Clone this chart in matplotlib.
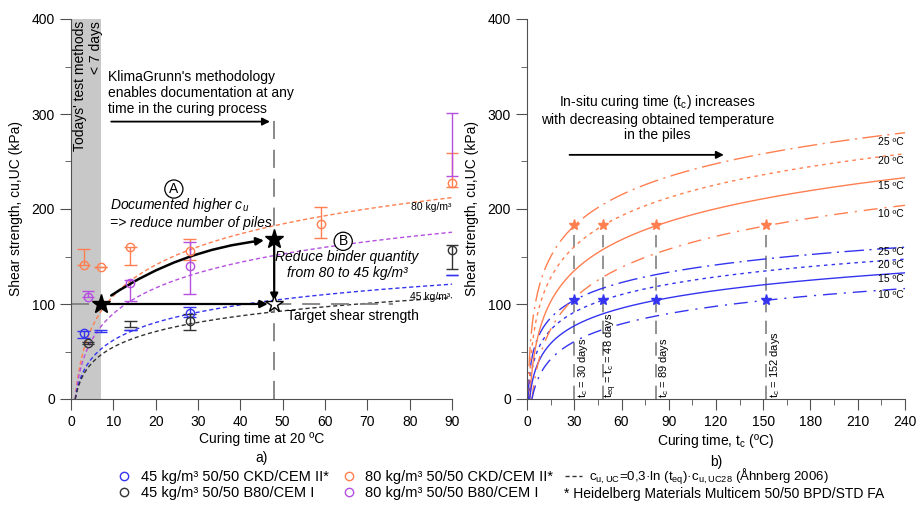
import numpy as np
import matplotlib.pyplot as plt
from matplotlib.lines import Line2D

plt.rcParams['font.family'] = ['Liberation Sans', 'DejaVu Sans']
plt.rcParams['mathtext.default'] = 'regular'
plt.rcParams['font.size'] = 10

# colours
c_or = '#FF7F50'
c_pu = '#B44FE0'
c_bl = '#3434F0'
c_bk = '#333333'
c_gr = '#808080'

# ---- data a) : measured shear strength (mean, low, high), nan = no marker drawn
t_or = [3, 7, 14, 28, 59, 90]
m_or = [141, 139, 160, 156, 184, 227]
lo_or = [141, 139, 141, 146, 169, 223]
hi_or = [158, 139, 160, 168, 202, 259]

t_pu = [4, 14, 28, 90]
m_pu = [107, 122, 140, np.nan]
lo_pu = [107, 103, 111, 235]
hi_pu = [114, 125, 165, 301]

t_bl = [3, 7, 14, 28, 90]
m_bl = [69, np.nan, np.nan, 91, np.nan]
lo_bl = [64, 70.5, 73, 86, 131]
hi_bl = [72, 73, 73, 97, 131]

t_bk = [4, 14, 28, 90]
m_bk = [59, np.nan, 82, 157]
lo_bk = [58, 76, 73, 137]
hi_bk = [60, 82.5, 90, 162]

# c_u,UC28 (kPa)
c28_or = 157
c28_pu = 130
c28_bl = 89.5
c28_bk = 79

# ---- data b) : in-situ curing times reaching the 20 degC / 48 day strength
temps = [25, 20, 15, 10]
t_star = [30, 48, 82, 152]
t_ref = 48
star_or = 183
star_bl = 104
day_labels = ['t$_c$ = 30 days', 't$_{eq}$ = t$_c$ = 48 days', 't$_c$ = 89 days', 't$_c$ = 152 days']
lab_y_or = [271, 250, 224, 195]
lab_y_bl = [155, 141, 126, 109]
styles = [(0, (14, 4, 1.5, 4)), (0, (2.5, 3)), '-', (0, (10, 5, 1.5, 5))]


def cu(t, c28):
    # c_u,UC = c_u,UC28 (1 + 0.3 ln(t_eq/28))  (Ahnberg 2006)
    return c28 * (1 + 0.3 * np.log(t / 28.0))


fig = plt.figure(figsize=(9.19, 5.08), dpi=100)
ax1 = fig.add_axes([71/919, 1-399/508, 381/919, 380/508])
ax2 = fig.add_axes([527/919, 1-399/508, 378/919, 380/508])

for ax in (ax1, ax2):
    for s in ('top', 'right'):
        ax.spines[s].set_visible(False)
    for s in ('left', 'bottom'):
        ax.spines[s].set_color('#505050')
    ax.tick_params(which='major', length=8, color='#505050')
    ax.tick_params(which='minor', length=4, color='#505050')
    ax.set_ylim(0, 400)
    ax.set_yticks([0, 100, 200, 300, 400])
    ax.set_yticks([50, 150, 250, 350], minor=True)
    ax.set_ylabel('Shear strength, cu,UC (kPa)', labelpad=6)

# ---------------- a)
ax1.set_xlim(0, 90)
ax1.set_xticks(range(0, 91, 10))
ax1.set_xlabel('Curing time at 20 ºC\na)', linespacing=1.5, labelpad=2)
ax1.axvspan(0, 7, color='#C8C8C8', zorder=0, lw=0)
ax1.text(4.1, 398, "Todays' test methods\n< 7 days", rotation=90, ha='center', va='top',
         multialignment='right', fontsize=10)

tt = np.linspace(1.0, 90, 300)
for c28, col in [(c28_or, c_or), (c28_pu, c_pu), (c28_bl, c_bl), (c28_bk, c_bk)]:
    ax1.plot(tt, cu(tt, c28), color=col, lw=1, ls=(0, (3, 2)), zorder=2)

ax1.plot([0, 76], [100, 100], color=c_gr, lw=1.3, ls=(0, (10, 6)), zorder=2)
ax1.plot([48, 48], [0, 300], color=c_gr, lw=1.3, ls=(0, (10, 6)), zorder=2)

cw = 1.5
for t, m, lo, hi, col in [(t_or, m_or, lo_or, hi_or, c_or), (t_pu, m_pu, lo_pu, hi_pu, c_pu),
                          (t_bl, m_bl, lo_bl, hi_bl, c_bl), (t_bk, m_bk, lo_bk, hi_bk, c_bk)]:
    t = np.array(t, float)
    ax1.vlines(t, lo, hi, color=col, lw=1, zorder=3, clip_on=False)
    ax1.hlines(lo, t - cw, t + cw, color=col, lw=1, zorder=3, clip_on=False)
    ax1.hlines(hi, t - cw, t + cw, color=col, lw=1, zorder=3, clip_on=False)
    ax1.plot(t, m, 'o', mfc='none', mec=col, ms=6, mew=1, ls='none', zorder=4, clip_on=False)

arr = dict(arrowstyle='-|>', color='k', lw=1.3, mutation_scale=11, shrinkA=0, shrinkB=0)
ax1.text(8.7, 322, "KlimaGrunn's methodology\nenables documentation at any\ntime in the curing process",
         ha='left', va='center', fontsize=10, linespacing=1.15)
ax1.annotate('', xy=(47, 292), xytext=(9.5, 292), arrowprops=arr)
ax1.annotate('', xy=(45.6, 167), xytext=(9.5, 109),
             arrowprops=dict(arr, lw=1.8, connectionstyle='arc3,rad=-0.12'))
ax1.annotate('', xy=(46.5, 100), xytext=(7, 100), arrowprops=dict(arr, lw=1.6))
ax1.annotate('', xy=(48, 103), xytext=(48, 166), arrowprops=dict(arr, lw=1.6))
ax1.plot([7, 48], [100, 168], '*', color='k', ms=14, zorder=6)
ax1.plot([48], [100], '*', mfc='white', mec='k', ms=13, mew=1, zorder=6)

circ = dict(boxstyle='circle,pad=0.15', fc='white', ec='k', lw=0.9)
ax1.text(24.3, 221, 'A', ha='center', va='center', fontsize=10, bbox=circ)
ax1.text(64.3, 166, 'B', ha='center', va='center', fontsize=10, bbox=circ)
ax1.text(9.2, 196, 'Documented higher c$_u$\n=> reduce number of piles', ha='left', va='center',
         fontsize=10, style='italic', linespacing=1.2)
ax1.text(65.2, 141, 'Reduce binder quantity\nfrom 80 to 45 kg/m³', ha='center', va='center',
         fontsize=10, style='italic', linespacing=1.2)
ax1.text(80.4, 202, '80 kg/m³', ha='left', va='center', fontsize=7.5)
ax1.text(80.1, 107, '45 kg/m³', ha='left', va='center', fontsize=7.5)
ax1.text(51, 87, 'Target shear strength', ha='left', va='center', fontsize=10)

# ---------------- b)
ax2.set_xlim(0, 240)
ax2.set_xticks(range(0, 241, 30))
ax2.set_xticks(range(15, 240, 30), minor=True)
ax2.set_xlabel('Curing time, t$_c$ (ºC)\nb)', linespacing=1.5, labelpad=2)

for T, ts, st, yo, yb in zip(temps, t_star, styles, lab_y_or, lab_y_bl):
    k = t_ref / ts
    tt = np.linspace(1.0 / k, 240, 400)
    ax2.plot(tt, cu(k * tt, c28_or), color=c_or, lw=1, ls=st)
    ax2.plot(tt, cu(k * tt, c28_bl), color=c_bl, lw=1, ls=st)
    ax2.text(239, yo, f'{T} ºC', ha='right', va='center', fontsize=7.5)
    ax2.text(239, yb, f'{T} ºC', ha='right', va='center', fontsize=7.5)

for ts, lab in zip(t_star, day_labels):
    ax2.plot([ts, ts], [0, star_or - 10], color=c_gr, lw=1.2, ls=(0, (8, 5)), zorder=1)
    ax2.annotate(lab, xy=(ts, 1), xytext=(6, 0), textcoords='offset points', rotation=90,
                 ha='center', va='bottom', fontsize=8)
ax2.plot(t_star, [star_or] * 4, '*', color=c_or, ms=8, zorder=5)
ax2.plot(t_star, [star_bl] * 4, '*', color=c_bl, ms=8, zorder=5)

ax2.text(82.7, 296, 'In-situ curing time (t$_c$) increases\nwith decreasing obtained temperature\nin the piles',
         ha='center', va='center', fontsize=10, linespacing=1.15)
ax2.annotate('', xy=(125, 257), xytext=(27, 257), arrowprops=arr)

# ---------------- legend
handles = [
    Line2D([], [], marker='o', mfc='none', mec=c_bl, ls='none', ms=6),
    Line2D([], [], marker='o', mfc='none', mec=c_bk, ls='none', ms=6),
    Line2D([], [], marker='o', mfc='none', mec=c_or, ls='none', ms=6),
    Line2D([], [], marker='o', mfc='none', mec=c_pu, ls='none', ms=6),
    Line2D([], [], color=c_bk, lw=1, ls=(0, (3, 2))),
]
labels = ['45 kg/m³ 50/50 CKD/CEM II*', '45 kg/m³ 50/50 B80/CEM I',
          '80 kg/m³ 50/50 CKD/CEM II*', '80 kg/m³ 50/50 B80/CEM I',
          'c$_{u,UC}$=0,3·ln (t$_{eq}$)·c$_{u,UC28}$ (Åhnberg 2006)']
leg = fig.legend(handles, labels, ncol=3, loc='upper left', bbox_to_anchor=(0.118, 0.095),
                 frameon=False, fontsize=10.5, handlelength=1.2, handletextpad=0.5,
                 columnspacing=0.8, borderpad=0, labelspacing=0.15)
leg.get_texts()[4].set_fontsize(9.5)
fig.text(564/919, 1-494/508, '* Heidelberg Materials Multicem 50/50 BPD/STD FA', ha='left',
         va='center', fontsize=10)

fig.savefig('out.png', dpi=100)
